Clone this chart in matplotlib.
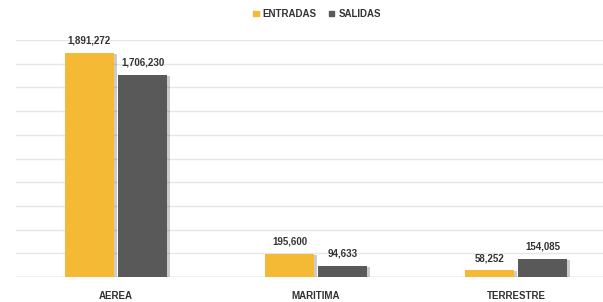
import matplotlib.pyplot as plt
import matplotlib.patheffects as pe
from matplotlib.patches import Patch
import numpy as np

categorias = ["AEREA", "MARITIMA", "TERRESTRE"]
entradas = [1891272, 195600, 58252]
salidas = [1706230, 94633, 154085]
series = ["ENTRADAS", "SALIDAS"]

plt.rcParams['font.family'] = ['Liberation Sans Narrow', 'Liberation Sans', 'DejaVu Sans']

c_ent = "#F4B935"
c_sal = "#595959"

fig = plt.figure(figsize=(6.03, 3.02), dpi=100)
# the original is cropped on the right, so the axes run past the figure edge
ax = fig.add_axes([16 / 603, 25 / 302, 600 / 603, 237 / 302])

x = np.arange(len(categorias))
w = 0.245
off = 0.1325
shadow = [pe.SimplePatchShadow(offset=(2, -1), alpha=0.2, shadow_rgbFace="#000000"), pe.Normal()]

b1 = ax.bar(x - off, entradas, w, color=c_ent, zorder=3, path_effects=shadow)
b2 = ax.bar(x + off, salidas, w, color=c_sal, zorder=3, path_effects=shadow)

for bars, vals in [(b1, entradas), (b2, salidas)]:
    for r, v in zip(bars, vals):
        ax.annotate(f"{v:,}", (r.get_x() + r.get_width() / 2, v), xytext=(0, 5),
                    textcoords="offset points", ha="center", va="bottom",
                    fontsize=7, fontweight="bold", color="#333333")

ax.set_xlim(-0.5, 2.5)
ax.set_ylim(0, 2000000)
ax.set_yticks(np.arange(0, 2000001, 200000))
ax.yaxis.grid(True, color="#E6E6E6", lw=1, zorder=0)
ax.set_xticks(x)
ax.set_xticklabels(categorias, fontsize=7, fontweight="bold", color="#333333")
ax.tick_params(axis="x", length=0, pad=10)
ax.tick_params(axis="y", length=0, labelleft=False)
for s in ax.spines.values():
    s.set_visible(False)
ax.axhline(0, color="#D9D9D9", lw=1, zorder=2)

handles = [Patch(color=c_ent), Patch(color=c_sal)]
fig.legend(handles, series, loc="center", bbox_to_anchor=(317 / 603, 1 - 14 / 302), ncol=2,
           frameon=False, prop={"size": 7, "weight": "bold"}, handlelength=0.55,
           handleheight=0.55, handletextpad=0.4, columnspacing=1.3, labelcolor="#333333")

fig.savefig("out.png", dpi=100)
